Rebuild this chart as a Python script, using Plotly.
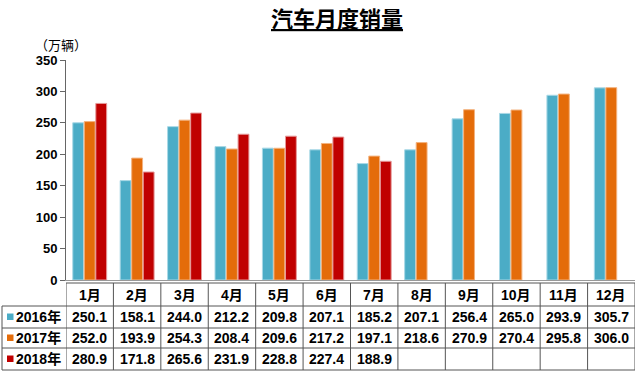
import plotly.graph_objects as go

months = ["1月", "2月", "3月", "4月", "5月", "6月", "7月", "8月", "9月", "10月", "11月", "12月"]
series_names = ["2016年", "2017年", "2018年"]
sales_2016 = [250.1, 158.1, 244.0, 212.2, 209.8, 207.1, 185.2, 207.1, 256.4, 265.0, 293.9, 305.7]
sales_2017 = [252.0, 193.9, 254.3, 208.4, 209.6, 217.2, 197.1, 218.6, 270.9, 270.4, 295.8, 306.0]
sales_2018 = [280.9, 171.8, 265.6, 231.9, 228.8, 227.4, 188.9, None, None, None, None, None]
colors = ["#4BACC6", "#E46C0A", "#C00000"]
edge_colors = ["#A9D8E6", "#F3B27E", "#E59A9A"]
y_ticks = [0, 50, 100, 150, 200, 250, 300, 350]

W, H = 640, 374
L, R, T, B = 66, 5, 60, 94
PW, PH = W - L - R, H - T - B

def px_x(p):
    return (p - L) / PW

def px_y(p):
    return (H - B - p) / PH

fig = go.Figure()
all_series = [sales_2016, sales_2017, sales_2018]
for name, vals, c, ec in zip(series_names, all_series, colors, edge_colors):
    fig.add_trace(go.Bar(x=months, y=vals, name=name, marker=dict(color=c, line=dict(color=ec, width=1)),
                         hoverinfo="skip"))

font_fam = "Arial, Liberation Sans, Noto Sans CJK SC, sans-serif"
line_col = "#555555"
shapes = []
annots = []

row_y = [283, 306, 328, 348, 370]
shapes.append(dict(type="line", xref="x", yref="paper", x0=-0.5, x1=11.5,
                   y0=px_y(row_y[0]), y1=px_y(row_y[0]), line=dict(color=line_col, width=1)))
for ry in row_y[1:]:
    shapes.append(dict(type="line", xref="paper", yref="paper", x0=px_x(2), x1=1,
                       y0=px_y(ry), y1=px_y(ry), line=dict(color=line_col, width=1)))
for i in range(13):
    shapes.append(dict(type="line", xref="x", yref="paper", x0=i - 0.5, x1=i - 0.5,
                       y0=px_y(row_y[0]), y1=px_y(row_y[-1]), line=dict(color=line_col, width=1)))
shapes.append(dict(type="line", xref="paper", yref="paper", x0=px_x(2), x1=px_x(2),
                   y0=px_y(row_y[1]), y1=px_y(row_y[-1]), line=dict(color=line_col, width=1)))

def txt(x, xref, y, text, size, xanchor="center"):
    return dict(x=x, xref=xref, y=y, yref="paper", text=text, showarrow=False,
                xanchor=xanchor, yanchor="middle",
                font=dict(size=size, color="black", family=font_fam))

for i, m in enumerate(months):
    annots.append(txt(i, "x", px_y((row_y[0] + row_y[1]) / 2), f"<b>{m}</b>", 14))
for r, (name, vals, c) in enumerate(zip(series_names, all_series, colors)):
    yc = (row_y[r + 1] + row_y[r + 2]) / 2
    shapes.append(dict(type="rect", xref="paper", yref="paper", x0=px_x(7), x1=px_x(13.5),
                       y0=px_y(yc + 3), y1=px_y(yc - 3.5), fillcolor=c, line=dict(width=0)))
    annots.append(txt(px_x(14), "paper", px_y(yc), f"<b>{name}</b>", 14, xanchor="left"))
    for i, v in enumerate(vals):
        if v is None:
            continue
        annots.append(txt(i, "x", px_y(yc), f"<b>{v:.1f}</b>", 14))

annots.append(txt(px_x(337), "paper", px_y(19), "<b><u>汽车月度销量</u></b>", 22))
annots.append(txt(px_x(61), "paper", px_y(45), "（万辆）", 13))

fig.update_layout(
    width=W, height=H,
    margin=dict(l=L, r=R, t=T, b=B, autoexpand=False),
    paper_bgcolor="white", plot_bgcolor="white",
    barmode="group", bargap=0.27, bargroupgap=0.06,
    showlegend=False, hovermode=False,
    shapes=shapes, annotations=annots,
    font=dict(family=font_fam),
    xaxis=dict(range=[-0.5, 11.5], showticklabels=False, ticks="", showgrid=False,
               showline=True, linecolor="#999999", linewidth=1, zeroline=False),
    yaxis=dict(range=[0, 350], tickvals=y_ticks, ticktext=[f"<b>{t}</b>" for t in y_ticks],
               ticks="outside", ticklen=5, tickcolor="#666666", showgrid=False,
               showline=True, linecolor="#666666", linewidth=1, zeroline=False,
               tickfont=dict(size=13, color="black", family=font_fam)),
)

fig.write_html("out.html", config={"displayModeBar": False, "staticPlot": True},
               post_script="document.body.style.margin='0';document.body.style.overflow='hidden';")
